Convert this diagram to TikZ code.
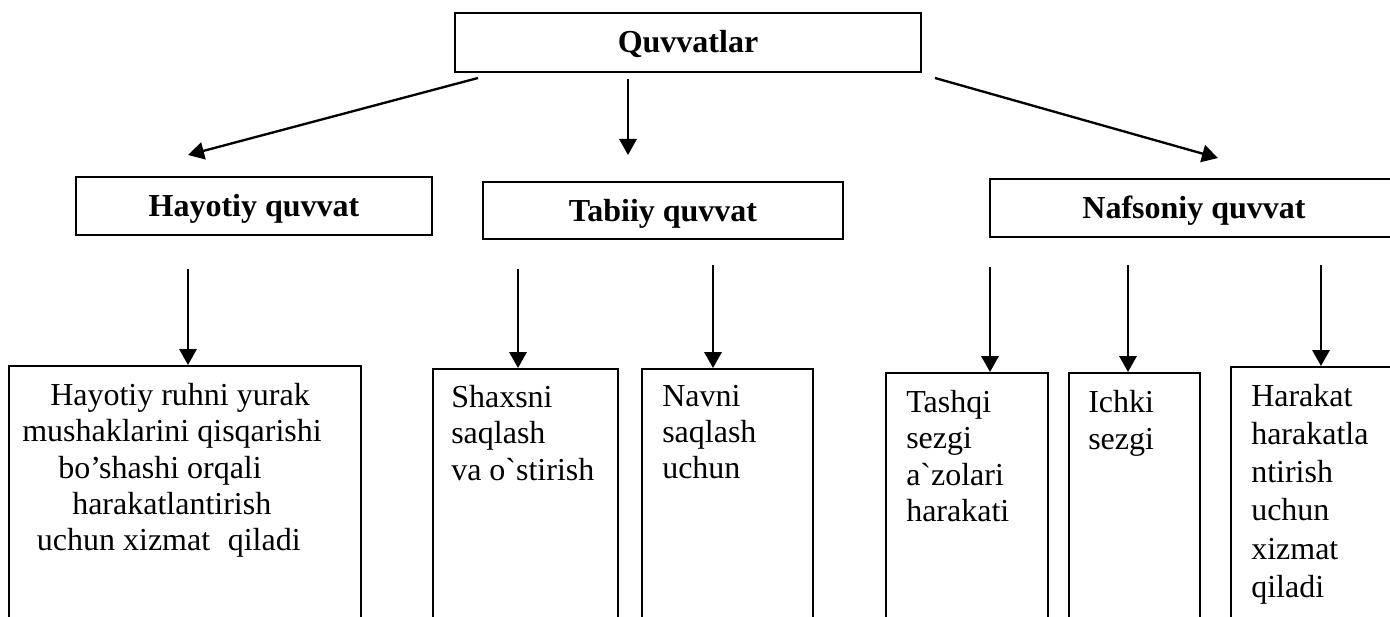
\documentclass[tikz,border=0pt]{standalone}
\usepackage{fontspec}
\setmainfont{Liberation Serif}[Ligatures=TeXOff]
\usetikzlibrary{arrows.meta}
\begin{document}
\begin{tikzpicture}[x=0.75pt,y=-0.75pt,
  box/.style={draw, line width=1.35pt, inner sep=0pt},
  head/.style={box, font=\fontsize{24}{27.5}\selectfont\bfseries,
    text height=17pt, text depth=1.25pt},
  leaf/.style={box, anchor=north west},
  txt/.style={anchor=north west, inner sep=0pt, align=left,
    font=\fontsize{24}{27.2}\selectfont},
  arr/.style={line width=1.75pt, -{Triangle[length=12pt,width=13pt]}}]
\useasboundingbox (0,0) rectangle (1390,617);

% top level
\node[head, minimum width=349.5pt, minimum height=44.25pt] (top) at (688,42.5) {Quvvatlar};

% second level
\node[head, minimum width=267pt, minimum height=43.5pt] (hay) at (254,206) {Hayotiy quvvat};
\node[head, minimum width=270pt, minimum height=42.75pt] (tab) at (663,210.5) {Tabiiy quvvat};
\node[head, minimum width=306pt, minimum height=43.5pt] (naf) at (1194,208) {Nafsoniy quvvat};

% third level boxes (run past the lower edge)
\node[leaf, minimum width=264pt, minimum height=210pt] (hayb) at (8,365) {};
\node[leaf, minimum width=138.75pt, minimum height=210pt] (shax) at (432,368) {};
\node[leaf, minimum width=128.25pt, minimum height=210pt] (navni) at (641,368) {};
\node[leaf, minimum width=121.5pt, minimum height=210pt] (tash) at (885,372) {};
\node[leaf, minimum width=98.25pt, minimum height=210pt] (ichki) at (1068,372) {};
\node[leaf, minimum width=131.25pt, minimum height=210pt] (hark) at (1230,366) {};

% texts of the third level
\node[txt] (hayT) at (22,383) {\hspace*{21pt}Hayotiy ruhni yurak\\
  mushaklarini qisqarishi\\
  \hspace*{27pt}bo’shashi orqali\\
  \hspace*{37.5pt}harakatlantirish\\
  \hspace*{11pt}uchun xizmat\hspace{0.3em} qiladi};
\node[txt] (shaxT) at (451,385) {Shaxsni\\saqlash\\va o`stirish};
\node[txt] (navniT) at (662,385) {Navni\\saqlash\\uchun};
\node[txt] (tashT) at (906,390) {Tashqi\\sezgi\\a`zolari\\harakati};
\node[txt, font=\fontsize{24}{27.8}\selectfont] (ichkiT) at (1088,390) {Ichki\\sezgi};
\node[txt, font=\fontsize{24}{28.6}\selectfont] (harkT) at (1251,384) {Harakat\\harakatla\\ntirish\\uchun\\xizmat\\qiladi};

% arrow ends
\coordinate (a1s) at (478,78);   \coordinate (a1e) at (188,155);
\coordinate (a2s) at (628,79);   \coordinate (a2e) at (628,155);
\coordinate (a3s) at (935,78);   \coordinate (a3e) at (1218,158);
\coordinate (b1s) at (188,269);  \coordinate (b2s) at (518,269);
\coordinate (b3s) at (713,265);  \coordinate (b4s) at (990,267);
\coordinate (b5s) at (1128,265); \coordinate (b6s) at (1321,265);

% connectors
\draw[arr] (a1s) -- (a1e);
\draw[arr] (a2s) -- (a2e);
\draw[arr] (a3s) -- (a3e);
\draw[arr] (b1s) -- (b1s |- hayb.north);
\draw[arr] (b2s) -- (b2s |- shax.north);
\draw[arr] (b3s) -- (b3s |- navni.north);
\draw[arr] (b4s) -- (b4s |- tash.north);
\draw[arr] (b5s) -- (b5s |- ichki.north);
\draw[arr] (b6s) -- (b6s |- hark.north);
\end{tikzpicture}
\end{document}
